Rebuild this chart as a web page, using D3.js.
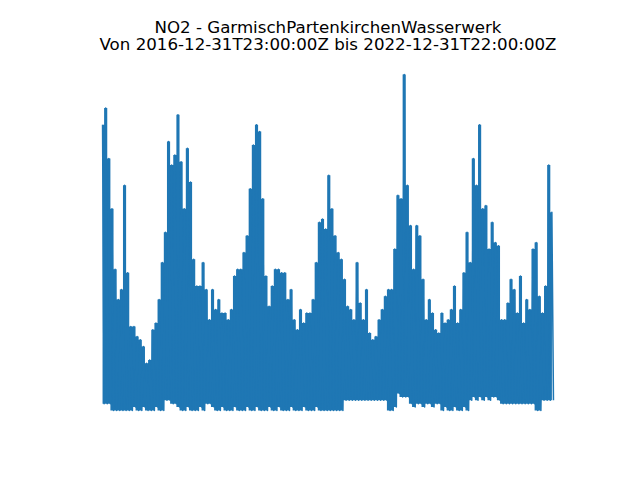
<!DOCTYPE html>
<html>
<head>
<meta charset="utf-8">
<script src="https://cdn.jsdelivr.net/npm/d3@7"></script>
<style>
  body { margin: 0; background: #fff; }
  .line { fill: none; stroke: #1f77b4; stroke-width: 1.5px; stroke-linejoin: round; }
  .band { fill: #1f77b4; stroke: none; }
  .title { font-family: "DejaVu Sans", sans-serif; font-size: 16.67px; fill: #000; }
</style>
</head>
<body>
<div class="chartRender"></div>
<script>
// station and period
var station = "GarmischPartenkirchenWasserwerk";
var startTime = "2016-12-31T23:00:00Z";
var endTime = "2022-12-31T22:00:00Z";

// NO2, half-monthly peaks (hi) and troughs (lo)
var hi2017 = [85, 90, 75, 60, 42, 33, 36, 67, 41, 25, 25, 22, 21, 19, 14, 15, 24, 26, 33, 44, 53, 80, 73, 76];
var lo2017 = [2, 2, 2, 0, 0, 0, 0, 0, 0, 0, 1, 0, 0, 1, 0, 0, 0, 1, 0, 0, 3, 3, 2, 2];
var hi2018 = [88, 74, 60, 78, 68, 45, 37, 37, 44, 36, 27, 36, 30, 33, 29, 29, 27, 30, 40, 42, 42, 47, 52, 66];
var lo2018 = [1, 0, 0, 1, 0, 0, 0, 1, 0, 2, 2, 1, 0, 0, 1, 0, 0, 0, 1, 0, 0, 0, 1, 0];
var hi2019 = [79, 85, 83, 63, 40, 31, 37, 42, 42, 41, 41, 33, 36, 27, 24, 30, 26, 29, 29, 33, 44, 56, 57, 54];
var lo2019 = [0, 1, 0, 0, 0, 1, 0, 0, 1, 0, 0, 0, 1, 0, 0, 0, 1, 0, 0, 0, 1, 0, 0, 0];
var hi2020 = [70, 60, 52, 47, 45, 39, 31, 30, 27, 44, 32, 27, 36, 23, 21, 22, 27, 30, 34, 36, 36, 48, 64, 63];
var lo2020 = [0, 0, 0, 0, 0, 3, 3, 3, 3, 3, 3, 3, 3, 3, 3, 3, 3, 3, 3, 0, 0, 1, 5, 4];
var hi2021 = [100, 67, 55, 42, 55, 52, 39, 27, 33, 29, 24, 23, 29, 26, 27, 30, 37, 26, 30, 41, 53, 44, 75, 67];
var lo2021 = [4, 4, 2, 1, 2, 2, 1, 2, 2, 1, 2, 2, 0, 1, 0, 0, 1, 0, 0, 1, 0, 3, 4, 3];
var hi2022 = [85, 60, 61, 48, 56, 50, 49, 27, 27, 32, 39, 36, 29, 40, 26, 33, 30, 48, 50, 34, 29, 37, 73, 59];
var lo2022 = [4, 3, 4, 3, 4, 4, 3, 2, 2, 2, 2, 2, 2, 2, 2, 2, 2, 2, 0, 0, 3, 3, 3, 3];

var hiVals = [].concat(hi2017, hi2018, hi2019, hi2020, hi2021, hi2022);
var loVals = [].concat(lo2017, lo2018, lo2019, lo2020, lo2021, lo2022);

// matplotlib default axes box in a 640x480 figure
var margin = {top: 57.6, right: 64, bottom: 52.8, left: 80},
    width = 640 - margin.left - margin.right,
    height = 480 - margin.top - margin.bottom;

// hi and lo alternate in time across the whole period
var t0 = new Date(startTime), t1 = new Date(endTime);
var nPts = hiVals.length * 2;
var step = (t1 - t0) / (nPts - 1);
var data = [];
var periods = [];
hiVals.forEach(function(h, i){
    var th = new Date(+t0 + (2 * i) * step);
    data.push({t: th, v: h});
    data.push({t: new Date(+t0 + (2 * i + 1) * step), v: loVals[i]});
    periods.push({t: th, hi: h, lo: loVals[i]});
});

// set the ranges, with matplotlib's 5% padding
var x = d3.scaleTime().range([0, width]);
var y = d3.scaleLinear().range([height, 0]);

var xExt = d3.extent(data, function(d){ return d.t; });
var xPad = (xExt[1] - xExt[0]) * 0.05;
x.domain([new Date(+xExt[0] - xPad), new Date(+xExt[1] + xPad)]);

var yExt = d3.extent(data, function(d){ return d.v; });
var yPad = (yExt[1] - yExt[0]) * 0.05;
y.domain([yExt[0] - yPad, yExt[1] + yPad]);

var svg = d3.select(".chartRender").append("svg")
    .attr("width", 640)
    .attr("height", 480);

var g = svg.append("g")
    .attr("transform", "translate(" + margin.left + "," + margin.top + ")");

// the hourly trace is so dense that it reads as a filled band
var band = d3.area()
    .curve(d3.curveStep)
    .x(function(d){ return x(d.t); })
    .y0(function(d){ return y(d.lo); })
    .y1(function(d){ return y(d.hi); });

g.append("path")
    .attr("d", band(periods))
    .attr("class", "band");

var vline = d3.line()
    .x(function(d){ return x(d.t); })
    .y(function(d){ return y(d.v); });

g.append("path")
    .attr("d", vline(data))
    .attr("class", "line");

// title, two lines, axis itself is hidden
var cx = margin.left + width / 2;
svg.append("text")
    .attr("class", "title")
    .attr("text-anchor", "middle")
    .attr("x", cx).attr("y", 32.5)
    .text("NO2 - " + station);
svg.append("text")
    .attr("class", "title")
    .attr("text-anchor", "middle")
    .attr("x", cx).attr("y", 49.5)
    .text("Von " + startTime + " bis " + endTime);
</script>
</body>
</html>
